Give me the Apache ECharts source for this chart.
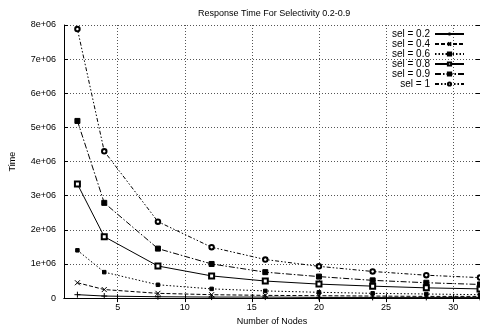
<!DOCTYPE html>
<html><head><meta charset="utf-8">
<script src="https://cdn.jsdelivr.net/npm/echarts@6/dist/echarts.min.js"></script>
<style>html,body{margin:0;padding:0;background:#fff}#c{width:480px;height:331px}</style>
</head><body><div id="c"></div>
<script>
var nodes = [2, 4, 8, 12, 16, 20, 24, 28, 32];
var sel02 = [0.10e6, 0.06e6, 0.04e6, 0.03e6, 0.03e6, 0.02e6, 0.02e6, 0.02e6, 0.02e6];
var sel04 = [0.45e6, 0.25e6, 0.14e6, 0.10e6, 0.08e6, 0.07e6, 0.06e6, 0.05e6, 0.05e6];
var sel06 = [1.40e6, 0.76e6, 0.39e6, 0.27e6, 0.21e6, 0.17e6, 0.14e6, 0.12e6, 0.10e6];
var sel08 = [3.34e6, 1.80e6, 0.94e6, 0.65e6, 0.50e6, 0.41e6, 0.35e6, 0.30e6, 0.27e6];
var sel09 = [5.19e6, 2.79e6, 1.45e6, 1.00e6, 0.76e6, 0.63e6, 0.52e6, 0.45e6, 0.40e6];
var sel1  = [7.88e6, 4.30e6, 2.24e6, 1.49e6, 1.13e6, 0.93e6, 0.78e6, 0.67e6, 0.60e6];
var xTicks = [5, 10, 15, 20, 25, 30];
var names = ['sel = 0.2', 'sel = 0.4', 'sel = 0.6', 'sel = 0.8', 'sel = 0.9', 'sel = 1'];

var FONT = 'Liberation Sans';
function pairs(ys) { return nodes.map(function (x, i) { return [x, ys[i]]; }); }
var plus = 'path://M0,5L10,5M5,0L5,10';
var cross = 'path://M0,0L10,10M10,0L0,10';
var defs = [
  { d: sel02, sym: plus, size: 6, dash: 'solid', stroke: true },
  { d: sel04, sym: cross, size: 5, dash: [4, 2], stroke: true },
  { d: sel06, sym: 'rect', size: 3.5, dash: [1.5, 2] },
  { d: sel08, sym: 'emptyRect', size: 5, dash: 'solid' },
  { d: sel09, sym: 'rect', size: 5, dash: [6, 2, 1.5, 2] },
  { d: sel1, sym: 'emptyCircle', size: 4.5, dash: [4, 2, 1.5, 2, 1.5, 2] }
];
var series = defs.map(function (s, i) {
  return {
    name: names[i], type: 'line', data: pairs(s.d),
    symbol: s.sym, symbolSize: s.size, showSymbol: true,
    lineStyle: { color: '#000', width: 1, type: s.dash },
    itemStyle: s.stroke ? { color: 'rgba(0,0,0,0)', borderColor: '#000', borderWidth: 1 } : { color: '#000', borderColor: '#000', borderWidth: 1 },
    emphasis: { disabled: true }, animation: false, z: 3 + i
  };
});
var grid = { left: 63, right: 0, top: 25, bottom: 30 };
var chart = echarts.init(document.getElementById('c'));
chart.setOption({
  backgroundColor: '#fff',
  animation: false,
  title: { text: 'Response Time For Selectivity 0.2-0.9', left: 193, top: 4,
    textStyle: { fontFamily: FONT, fontSize: 9, fontWeight: 'normal', color: '#000' } },
  legend: {
    orient: 'vertical', right: 10, top: 24, align: 'right', itemWidth: 29, itemHeight: 4, itemGap: 0,
    data: names, selectedMode: false,
    textStyle: { fontFamily: FONT, fontSize: 10, color: '#000', width: 46, align: 'right', lineHeight: 9.3, padding: [0, 0, 0, 0] }
  },
  grid: grid,
  xAxis: [{
    type: 'value', min: 1, max: 32,
    name: 'Number of Nodes', nameLocation: 'middle', nameGap: 18,
    nameTextStyle: { fontFamily: FONT, fontSize: 9, color: '#000' },
    axisLine: { show: true, onZero: false, lineStyle: { color: '#000', width: 1 } },
    axisTick: { show: true, inside: true, length: 4, customValues: xTicks, lineStyle: { color: '#000' } },
    axisLabel: { customValues: xTicks, fontFamily: FONT, fontSize: 9, color: '#000', margin: 5 },
    splitLine: { show: true, lineStyle: { color: '#555', type: [1, 2], width: 1 } }
  }, {
    type: 'value', min: 1, max: 32, position: 'top',
    axisLine: { show: true, lineStyle: { color: '#000', width: 1 } },
    axisTick: { show: true, inside: true, length: 4, customValues: xTicks, lineStyle: { color: '#000' } },
    axisLabel: { show: false }, splitLine: { show: false }
  }],
  yAxis: [{
    type: 'value', min: 0, max: 8e6, interval: 1e6,
    name: 'Time', nameLocation: 'middle', nameGap: 47, nameRotate: 90,
    nameTextStyle: { fontFamily: FONT, fontSize: 9, color: '#000' },
    axisLine: { show: true, lineStyle: { color: '#000', width: 1 } },
    axisTick: { show: true, inside: true, length: 4, lineStyle: { color: '#000' } },
    axisLabel: { fontFamily: FONT, fontSize: 9, color: '#000', margin: 8,
      formatter: function (v) { return v === 0 ? '0' : (v / 1e6) + 'e+06'; } },
    splitLine: { show: true, lineStyle: { color: '#555', type: [1, 2], width: 1 } }
  }, {
    type: 'value', min: 0, max: 8e6, interval: 1e6, position: 'right',
    axisLine: { show: true, lineStyle: { color: '#000', width: 1 } },
    axisTick: { show: true, inside: true, length: 4, lineStyle: { color: '#000' } },
    axisLabel: { show: false }, splitLine: { show: false }
  }],
  series: series
});
</script></body></html>
